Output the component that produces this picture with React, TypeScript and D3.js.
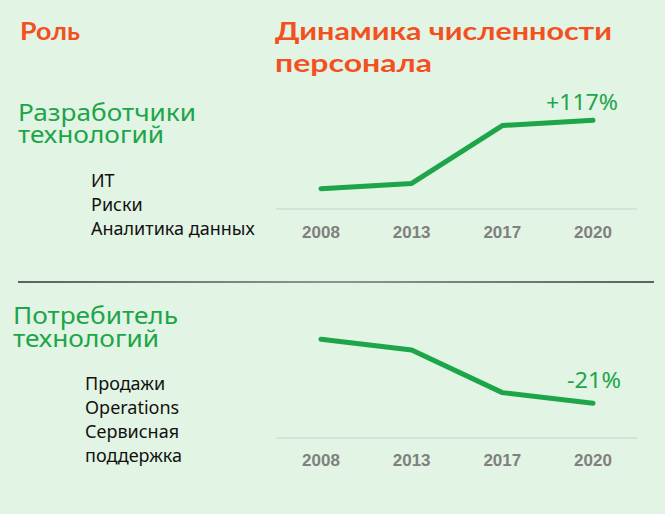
import React from "react";
import * as d3 from "d3";

const years = ["2008", "2013", "2017", "2020"];
const developersIndex = [100, 109, 208, 217];
const consumersIndex = [100, 96.5, 82.5, 79];
const developersRoles = ["ИТ", "Риски", "Аналитика данных"];
const consumersRoles = ["Продажи", "Operations", "Сервисная", "поддержка"];
const developersLabel = ["Разработчики", "технологий"];
const consumersLabel = ["Потребитель", "технологий"];
const developersChange = "+117%";
const consumersChange = "-21%";

const W = 665;
const H = 514;
const GREEN = "#1DA54A";
const ORANGE = "#F2511F";
const GREY = "#808080";

function Panel({ values, yDomain, yRange, baseY, tickY, change, changeX, changeY, changeW }: any) {
  const x = d3.scalePoint<string>().domain(years).range([321, 593]);
  const y = d3.scaleLinear().domain(yDomain).range(yRange);
  const line = d3
    .line<number>()
    .x((_, i) => x(years[i]) as number)
    .y((d) => y(d));
  return (
    <g>
      <line x1={276} x2={637} y1={baseY} y2={baseY} stroke="#D3DDD4" strokeWidth={1.5} />
      {years.map((yr) => (
        <text
          key={yr}
          x={x(yr)}
          y={tickY}
          textAnchor="middle"
          fontFamily="Liberation Sans, Arial, sans-serif"
          fontWeight="bold"
          fontSize={17}
          fill={GREY}
        >
          {yr}
        </text>
      ))}
      <path d={line(values) || ""} fill="none" stroke={GREEN} strokeWidth={5} strokeLinecap="round" strokeLinejoin="round" />
      <text
        x={changeX - changeW}
        y={changeY}
        fontFamily="Noto Sans, sans-serif"
        fontSize={22}
        fill={GREEN}
        textLength={changeW}
        lengthAdjust="spacingAndGlyphs"
      >
        {change}
      </text>
    </g>
  );
}

export default function App() {
  return (
    <svg
      width={W}
      height={H}
      style={{ position: "absolute", left: 0, top: 0, display: "block" }}
    >
      <defs>
        <linearGradient id="sep" x1="0" x2="1" y1="0" y2="0">
          <stop offset="0" stopColor="#5C625C" />
          <stop offset="0.5" stopColor="#8E948E" />
          <stop offset="1" stopColor="#5C625C" />
        </linearGradient>
      </defs>
      <rect x={0} y={0} width={W} height={H} fill="#E2F4E3" />

      <text x={20} y={40} fontFamily="Lato, sans-serif" fontWeight="bold" fontSize={24} fill={ORANGE} textLength={60} lengthAdjust="spacingAndGlyphs">
        Роль
      </text>
      <text x={275} y={40} fontFamily="Lato, sans-serif" fontWeight="bold" fontSize={25} fill={ORANGE} textLength={337} lengthAdjust="spacingAndGlyphs">
        Динамика численности
      </text>
      <text x={275} y={72} fontFamily="Lato, sans-serif" fontWeight="bold" fontSize={25} fill={ORANGE} textLength={157} lengthAdjust="spacingAndGlyphs">
        персонала
      </text>

      <text x={18} y={121} fontFamily="Noto Sans, sans-serif" fontSize={24} fill={GREEN} textLength={178} lengthAdjust="spacingAndGlyphs">
        {developersLabel[0]}
      </text>
      <text x={18} y={143} fontFamily="Noto Sans, sans-serif" fontSize={24} fill={GREEN} textLength={146} lengthAdjust="spacingAndGlyphs">
        {developersLabel[1]}
      </text>
      {developersRoles.map((r, i) => (
        <text key={r} x={91} y={187 + i * 24} fontFamily="Noto Sans, sans-serif" fontSize={18} fill="#111">
          {r}
        </text>
      ))}

      <Panel
        values={developersIndex}
        yDomain={[100, 217]}
        yRange={[188.7, 120.3]}
        baseY={209}
        tickY={238}
        change={developersChange}
        changeX={618}
        changeY={110}
        changeW={72}
      />

      <rect x={18} y={281} width={636} height={2} fill="url(#sep)" />

      <text x={13} y={324} fontFamily="Noto Sans, sans-serif" fontSize={24} fill={GREEN} textLength={165} lengthAdjust="spacingAndGlyphs">
        {consumersLabel[0]}
      </text>
      <text x={13} y={347} fontFamily="Noto Sans, sans-serif" fontSize={24} fill={GREEN} textLength={146} lengthAdjust="spacingAndGlyphs">
        {consumersLabel[1]}
      </text>
      {consumersRoles.map((r, i) => (
        <text key={r} x={85} y={390 + i * 24} fontFamily="Noto Sans, sans-serif" fontSize={18} fill="#111">
          {r}
        </text>
      ))}

      <Panel
        values={consumersIndex}
        yDomain={[79, 100]}
        yRange={[403.3, 339.3]}
        baseY={438}
        tickY={466}
        change={consumersChange}
        changeX={621}
        changeY={388}
        changeW={54}
      />
    </svg>
  );
}
